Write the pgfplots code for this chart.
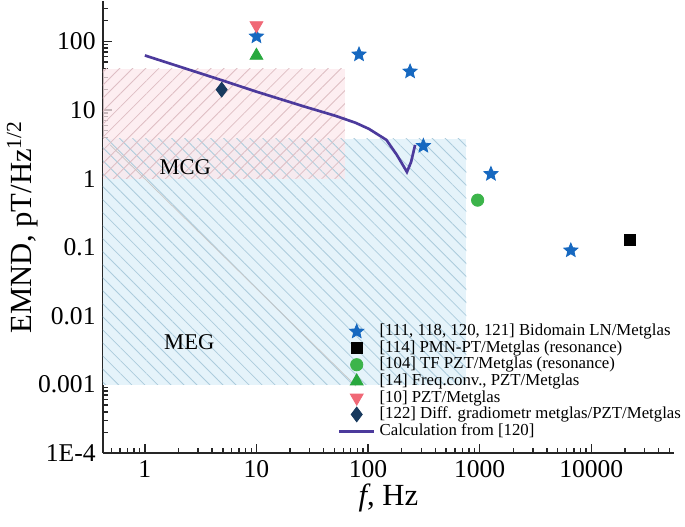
\documentclass[border=0pt]{standalone}
\usepackage{fontspec}
\setmainfont{Liberation Serif}
\usepackage{pgfplots}
\pgfplotsset{compat=1.18}
\usetikzlibrary{patterns.meta}

\definecolor{starblue}{RGB}{22,104,192}
\definecolor{circgreen}{RGB}{60,180,74}
\definecolor{trigreen}{RGB}{40,168,62}
\definecolor{redtri}{RGB}{240,104,118}
\definecolor{navy}{RGB}{24,58,94}
\definecolor{calcline}{RGB}{76,58,156}
\definecolor{mcgfill}{RGB}{252,232,236}
\definecolor{mcghatch}{RGB}{222,190,196}
\definecolor{megfill}{RGB}{229,243,250}
\definecolor{meghatch}{RGB}{172,204,220}

% filled five-point star
\pgfdeclareplotmark{fstar}{%
  \pgfpathmoveto{\pgfpointpolar{90}{\pgfplotmarksize}}%
  \pgfpathlineto{\pgfpointpolar{126}{0.45\pgfplotmarksize}}%
  \pgfpathlineto{\pgfpointpolar{162}{\pgfplotmarksize}}%
  \pgfpathlineto{\pgfpointpolar{198}{0.45\pgfplotmarksize}}%
  \pgfpathlineto{\pgfpointpolar{234}{\pgfplotmarksize}}%
  \pgfpathlineto{\pgfpointpolar{270}{0.45\pgfplotmarksize}}%
  \pgfpathlineto{\pgfpointpolar{306}{\pgfplotmarksize}}%
  \pgfpathlineto{\pgfpointpolar{342}{0.45\pgfplotmarksize}}%
  \pgfpathlineto{\pgfpointpolar{18}{\pgfplotmarksize}}%
  \pgfpathlineto{\pgfpointpolar{54}{0.45\pgfplotmarksize}}%
  \pgfpathclose
  \pgfusepathqfillstroke}

\pgfplotsset{calclegend/.style={legend image code/.code={\draw[##1] (0cm,0cm) -- (0.6cm,0cm);}}}

\begin{document}
\begin{tikzpicture}
\begin{axis}[
  xmode=log, ymode=log,
  width=279pt, height=221pt, scale only axis,
  xmin=0.42, xmax=55000, ymin=1e-4, ymax=390,
  axis x line*=bottom, axis y line*=left,
  axis line style={line width=0.8pt, color=black!85},
  tick align=inside,
  major tick length=4.5pt, minor tick length=2.5pt,
  every tick/.style={black!85, line width=0.7pt},
  xtick={1,10,100,1000,10000},
  xticklabels={1,10,100,1000,10000},
  minor xtick={0.5,0.6,0.7,0.8,0.9,2,3,4,5,6,7,8,9,20,30,40,50,60,70,80,90,
    200,300,400,500,600,700,800,900,2000,3000,4000,5000,6000,7000,8000,9000,
    20000,30000,40000,50000},
  ytick={1e-4,1e-3,1e-2,0.1,1,10,100},
  yticklabels={1E-4,0.001,0.01,0.1,1,10,100},
  minor ytick={2e-4,3e-4,4e-4,5e-4,6e-4,7e-4,8e-4,9e-4,
    2e-3,3e-3,4e-3,5e-3,6e-3,7e-3,8e-3,9e-3,
    0.02,0.03,0.04,0.05,0.06,0.07,0.08,0.09,
    0.2,0.3,0.4,0.5,0.6,0.7,0.8,0.9,2,3,4,5,6,7,8,9,
    20,30,40,50,60,70,80,90,200,300},
  ticklabel style={font=\fontsize{12.5}{14}\selectfont},
  xlabel={\textit{f}, Hz},
  ylabel={EMND, pT/Hz\textsuperscript{1/2}},
  label style={font=\fontsize{15}{17}\selectfont},
  ylabel shift=-7pt, xlabel shift=-4pt,
  legend style={at={(rel axis cs:0.411,0.295)}, anchor=north west,
    draw=none, fill=none, font=\fontsize{8.2}{8.5}\selectfont,
    row sep=-3.1pt, inner sep=0pt},
  legend cell align=left,
]
% MEG / MCG regions
\addplot[draw=none, fill=megfill, forget plot]
  coordinates {(0.42,0.001) (760,0.001) (760,3.8) (0.42,3.8)} -- cycle;
\addplot[draw=none, fill=mcgfill, fill opacity=0.75, forget plot]
  coordinates {(0.42,1) (62,1) (62,40) (0.42,40)} -- cycle;
\addplot[draw=none, pattern={Lines[angle=-45,distance=4.5pt,line width=0.4pt]},
  pattern color=meghatch, forget plot]
  coordinates {(0.42,0.001) (760,0.001) (760,3.8) (0.42,3.8)} -- cycle;
\addplot[draw=none, pattern={Lines[angle=45,distance=4.5pt,line width=0.4pt]},
  pattern color=mcghatch, forget plot]
  coordinates {(0.42,1) (62,1) (62,40) (0.42,40)} -- cycle;
\addplot[gray!45, line width=0.35pt, forget plot]
  coordinates {(0.49,3.1) (78,0.00095)};

\node[font=\fontsize{11}{12}\selectfont] at (axis cs:2.3,1.48) {MCG};
\node[font=\fontsize{11}{12}\selectfont] at (axis cs:2.5,0.0041) {MEG};

\addplot[only marks, mark=fstar, mark size=3.6pt, color=starblue]
  coordinates {(10,118) (83,64.5) (238,36.4) (313,3.0) (1262,1.17) (6560,0.090)};
\addlegendentry{[111, 118, 120, 121] Bidomain LN/Metglas}
\addplot[only marks, mark=square*, mark size=2.7pt, color=black]
  coordinates {(22300,0.13)};
\addlegendentry{[114] PMN-PT/Metglas (resonance)}
\addplot[only marks, mark=*, mark size=3pt, color=circgreen]
  coordinates {(959,0.486)};
\addlegendentry{[104] TF PZT/Metglas (resonance)}
\addplot[only marks, mark=triangle*, mark size=3.6pt, color=trigreen]
  coordinates {(10,62)};
\addlegendentry{[14] Freq.conv., PZT/Metglas}
\addplot[only marks, mark=triangle*, mark size=3.6pt, mark options={rotate=180}, color=redtri]
  coordinates {(10,171)};
\addlegendentry{[10] PZT/Metglas}
\addplot[only marks, mark=diamond*, mark size=3.6pt, color=navy]
  coordinates {(4.88,19.8)};
\addlegendentry{[122] Diff. gradiometr metglas/PZT/Metglas}
\addplot[calcline, line width=1.3pt, no marks, calclegend]
  coordinates {(1,62.4) (4.98,26.9) (10,18.5) (27,11.2) (50.8,8.25) (77.6,6.5)
    (102,5.3) (146,3.67) (181,2.22) (205,1.58) (223,1.25) (243,1.75) (264,3.1)};
\addlegendentry{Calculation from [120]}
\end{axis}
\path (current axis.outer south) -- ++(0,-4pt);
\end{tikzpicture}
\end{document}
